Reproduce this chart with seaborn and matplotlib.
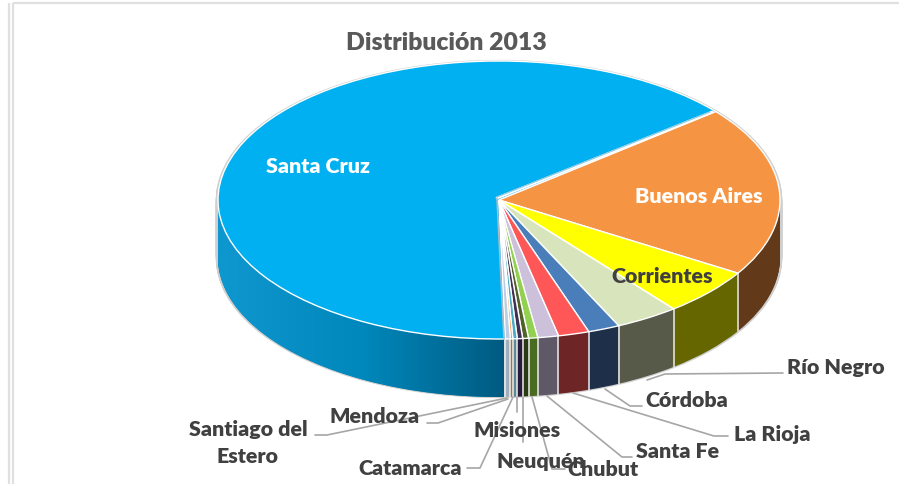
import numpy as np
import matplotlib
matplotlib.use('Agg')
import matplotlib.pyplot as plt
from matplotlib.patches import Polygon
import seaborn as sns

# Distribucion 2013 (clockwise, starting at Santa Cruz)
provincias = ['Santa Cruz', 'Buenos Aires', 'Corrientes', 'Río Negro', 'Córdoba', 'La Rioja', 'Santa Fe',
              'Chubut', 'Neuquén', 'Misiones', 'Catamarca', 'Mendoza', 'Santiago del\nEstero']
porcentajes = [64.4, 19.8, 5.5, 3.67, 1.83, 1.78, 1.19, 0.53, 0.33, 0.31, 0.25, 0.14, 0.28]
colores_top = ['#00B0F0', '#F59443', '#FFFF00', '#D8E4BC', '#4A7EBB', '#FF5757', '#CCC0DA',
               '#92D050', '#4F6228', '#403152', '#4BACC6', '#F79646', '#B9CDE5']
colores_lado = ['#0085B8', '#623A1A', '#666600', '#575A48', '#1E3049', '#6E2525', '#5F5866',
                '#4A6B22', '#2A3A14', '#2A1A3C', '#5A8A9C', '#B5701F', '#9FB0BC']
titulo = 'Distribución 2013'

sns.set_theme(style='white')
plt.rcParams['font.family'] = ['Lato', 'DejaVu Sans']

W, H = 899, 485
cx, cy, a, b = 499, 201, 281, 139
prof = 58 / b
inicio = 39.5 + porcentajes[0] / sum(porcentajes) * 360

fig = plt.figure(figsize=(W / 100, H / 100), dpi=100)
ax = fig.add_axes([0, 0, 1, 1])

# walls: same pie stacked downwards, gray rim first
for d in np.linspace(prof, 0, 60):
    ax.pie(porcentajes, colors=['#CFCFCF'] * len(porcentajes), startangle=inicio, counterclock=False,
           center=(0, -d), radius=1.008, wedgeprops={'linewidth': 0, 'zorder': 0.5})
for d in np.linspace(prof, 0, 60):
    ax.pie(porcentajes, colors=sns.color_palette(colores_lado), startangle=inicio, counterclock=False,
           center=(0, -d), radius=1, wedgeprops={'linewidth': 0, 'zorder': 1})

# gradient on the Santa Cruz wall
fin = np.deg2rad(inicio)
th = np.linspace(np.pi, fin, 120)
arco_x, arco_y = np.cos(th), np.sin(th)
borde = Polygon(np.r_[np.c_[arco_x, arco_y], np.c_[arco_x, arco_y - prof][::-1]], transform=ax.transData,
                fc='none', ec='none')
ax.add_patch(borde)
cmap = sns.blend_palette(['#0F97CF', '#0088BC', '#005A80'], as_cmap=True)
im = ax.imshow(np.linspace(0, 1, 256)[None, :], cmap=cmap, aspect='auto', zorder=1.5,
               extent=[-1, np.cos(fin), -1 - prof, 0])
im.set_clip_path(borde)

# white separators on the front wall
acum = np.cumsum(porcentajes) / sum(porcentajes) * 360
for v in acum:
    t = np.deg2rad(inicio - v)
    if np.sin(t) < 0:
        ax.plot([np.cos(t)] * 2, [np.sin(t), np.sin(t) - prof], color='#EDEDED', lw=1.1, zorder=2)
t = np.deg2rad(inicio)
ax.plot([np.cos(t)] * 2, [np.sin(t), np.sin(t) - prof], color='#E6E6E6', lw=1.1, zorder=2)

# top face
ax.pie(porcentajes, colors=sns.color_palette(colores_top), startangle=inicio, counterclock=False,
       radius=1, wedgeprops={'linewidth': 1.0, 'edgecolor': 'white', 'zorder': 3})

ax.set_aspect('auto')
ax.set_xlim(-cx / a, (W - cx) / a)
ax.set_ylim((cy - H) / b, cy / b)
ax.axis('off')

# overlay in pixels for frame, leaders and labels
over = fig.add_axes([0, 0, 1, 1], facecolor='none')
over.set_xlim(0, W)
over.set_ylim(H, 0)
over.axis('off')

for xs, ys in [([9, 9], [4, H]), ([12.5, 12.5], [4, H]), ([12.5, W], [4, 4])]:
    over.plot(xs, ys, color='#E0E0E0', lw=1.6, solid_capstyle='butt')

# cut between Santa Cruz and Buenos Aires
over.plot([497, 712], [199, 113], color='white', lw=2.0, zorder=4)
over.plot([497, 710], [198, 113], color='#8CC8DC', lw=0.8, zorder=4)
over.plot([497, 504], [199, 340], color='#A9BCC8', lw=1.2, zorder=4)

guias = {
    'Río Negro': [(647, 381), (665, 375), (783, 374)],
    'Córdoba': [(605, 390), (630, 407), (642, 407)],
    'La Rioja': [(573, 394), (714, 437), (728, 437)],
    'Santa Fe': [(547, 397), (622, 458), (632, 458)],
    'Chubut': [(532, 398), (552, 470), (565, 470)],
    'Neuquén': [(523, 398), (523, 443)],
    'Misiones': [(517, 398), (517, 413)],
    'Catamarca': [(513, 398), (480, 469), (467, 469)],
    'Mendoza': [(508, 400), (438, 424), (427, 424)],
    'Santiago del\nEstero': [(507, 399), (327, 436), (315, 436)],
}
for g in guias.values():
    over.plot(*zip(*g), color='#A6A6A6', lw=1.2, zorder=5)

lugares = {
    'Santa Cruz': (318, 167, 'white'), 'Buenos Aires': (699, 197, 'white'), 'Corrientes': (662, 277, '#404040'),
    'Río Negro': (836, 368, '#404040'), 'Córdoba': (687, 401, '#404040'), 'La Rioja': (772, 435, '#404040'),
    'Santa Fe': (678, 452, '#404040'), 'Chubut': (603, 470, '#404040'), 'Neuquén': (541, 462, '#404040'),
    'Misiones': (517, 431, '#404040'), 'Catamarca': (410, 469, '#404040'), 'Mendoza': (375, 417, '#404040'),
    'Santiago del\nEstero': (248, 443, '#404040'),
}
for nombre in provincias:
    x, y, c = lugares[nombre]
    over.text(x, y, nombre, ha='center', va='center', color=c, fontsize=15.4, fontweight='heavy',
              linespacing=1.45, zorder=6)
over.text(446, 43, titulo, ha='center', va='center', color='#595959', fontsize=17.8, fontweight='heavy', zorder=6)

fig.savefig('out.png', dpi=100)
